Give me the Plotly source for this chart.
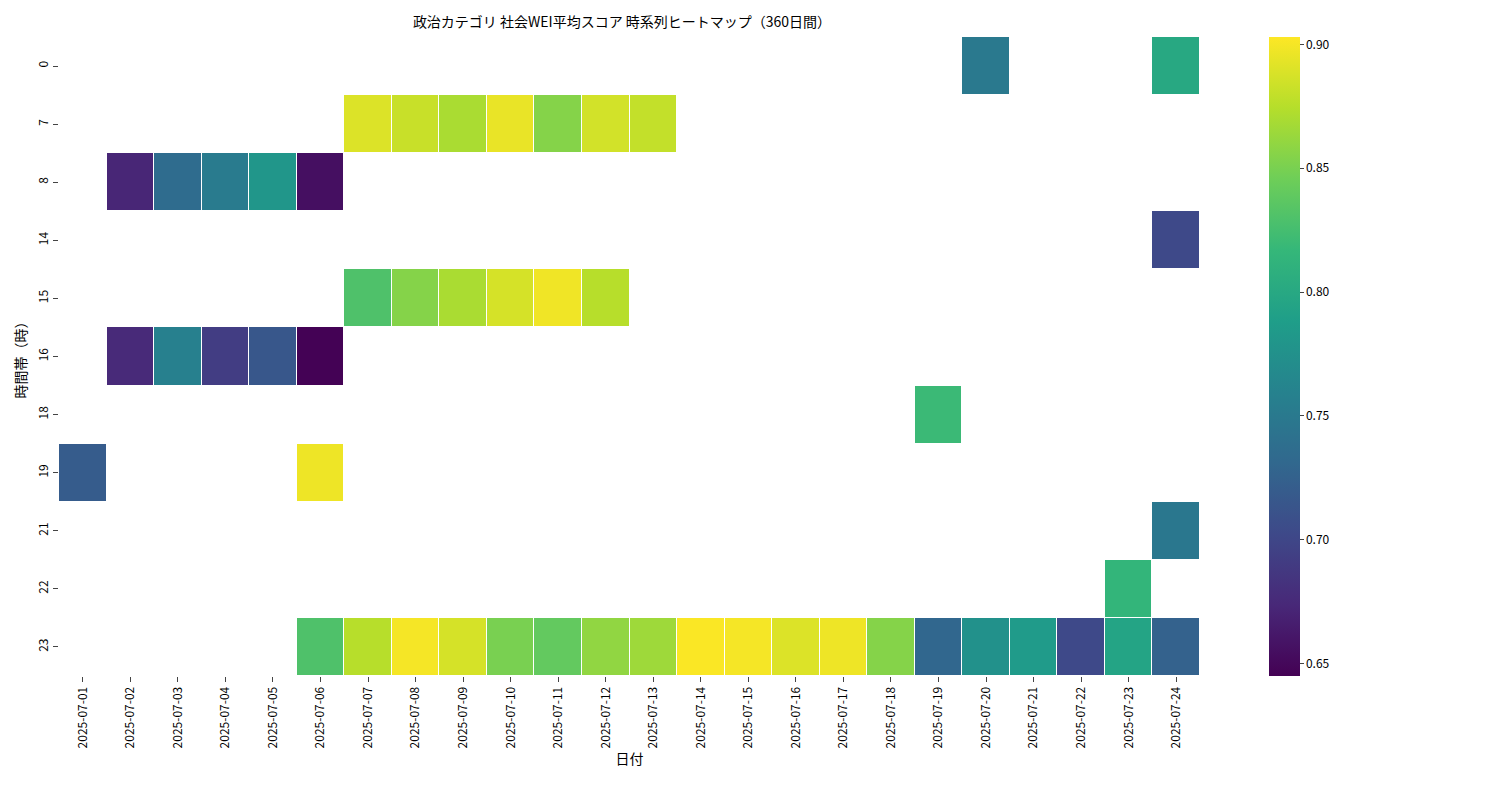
import plotly.graph_objects as go

dates = [f"2025-07-{d:02d}" for d in range(1, 25)]
hours = ["0", "7", "8", "14", "15", "16", "18", "19", "21", "22", "23"]

# (hour, date) -> mean score
cells = {
    "0": {"2025-07-20": 0.750, "2025-07-24": 0.800},
    "7": {"2025-07-07": 0.890, "2025-07-08": 0.882, "2025-07-09": 0.870, "2025-07-10": 0.895,
          "2025-07-11": 0.855, "2025-07-12": 0.886, "2025-07-13": 0.880},
    "8": {"2025-07-02": 0.672, "2025-07-03": 0.735, "2025-07-04": 0.752, "2025-07-05": 0.780,
          "2025-07-06": 0.655},
    "14": {"2025-07-24": 0.702},
    "15": {"2025-07-07": 0.830, "2025-07-08": 0.855, "2025-07-09": 0.870, "2025-07-10": 0.887,
           "2025-07-11": 0.898, "2025-07-12": 0.875},
    "16": {"2025-07-02": 0.675, "2025-07-03": 0.757, "2025-07-04": 0.692, "2025-07-05": 0.715,
           "2025-07-06": 0.646},
    "18": {"2025-07-19": 0.820},
    "19": {"2025-07-01": 0.720, "2025-07-06": 0.897},
    "21": {"2025-07-24": 0.748},
    "22": {"2025-07-23": 0.815},
    "23": {"2025-07-06": 0.830, "2025-07-07": 0.875, "2025-07-08": 0.900, "2025-07-09": 0.887,
           "2025-07-10": 0.850, "2025-07-11": 0.840, "2025-07-12": 0.860, "2025-07-13": 0.865,
           "2025-07-14": 0.902, "2025-07-15": 0.900, "2025-07-16": 0.890, "2025-07-17": 0.897,
           "2025-07-18": 0.855, "2025-07-19": 0.730, "2025-07-20": 0.775, "2025-07-21": 0.785,
           "2025-07-22": 0.702, "2025-07-23": 0.795, "2025-07-24": 0.725},
}

z = [[cells[h].get(d) for d in dates] for h in hours]

font = "Noto Sans CJK JP"

fig = go.Figure(go.Heatmap(
    z=z, x=dates, y=hours,
    colorscale="Viridis", zmin=0.645, zmax=0.903,
    xgap=1, ygap=1, hoverongaps=False,
    colorbar=dict(x=1.052, xanchor="left", thickness=31, len=1.0, lenmode="fraction",
                  y=0.5, yanchor="middle", ypad=0,
                  outlinewidth=0, ticks="outside", ticklen=4,
                  tickvals=[0.65, 0.70, 0.75, 0.80, 0.85, 0.90], tickformat=".2f"),
))

fig.update_layout(
    width=1500, height=800,
    margin=dict(l=49, r=308, t=29, b=132),
    plot_bgcolor="white", paper_bgcolor="white",
    font=dict(family=font, size=12, color="black"),
    title=dict(text="政治カテゴリ 社会WEI平均スコア 時系列ヒートマップ（360日間）",
               x=614 / 1500, xanchor="center", y=0.983, yanchor="middle", font=dict(size=14)),
)
fig.update_xaxes(type="category", tickangle=-90, ticks="outside", ticklen=5,
                 title=dict(text="日付", standoff=0), showgrid=False)
fig.update_yaxes(type="category", autorange="reversed", tickangle=-90, ticks="outside",
                 ticklen=5, title=dict(text="時間帯（時）", standoff=4), showgrid=False)

fig.write_html("out.html")
